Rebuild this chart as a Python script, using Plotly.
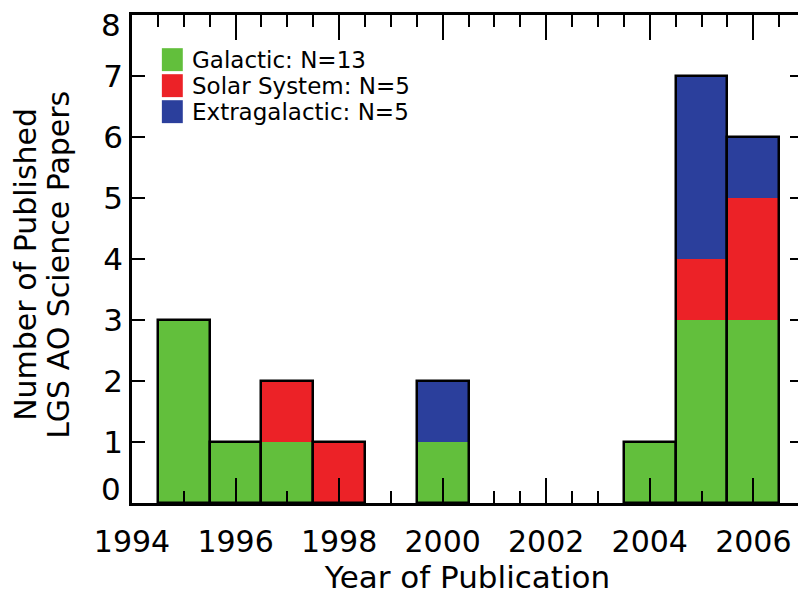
import plotly.graph_objects as go

# 数据: 每年发表的 LGS AO 科学论文数
years = [1995, 1996, 1997, 1998, 2000, 2004, 2005, 2006]
galactic = [3, 1, 1, 0, 1, 1, 3, 3]
solar_system = [0, 0, 1, 1, 0, 0, 1, 2]
extragalactic = [0, 0, 0, 0, 1, 0, 3, 1]

legend_labels = ["Galactic: N=13", "Solar System: N=5", "Extragalactic: N=5"]
colors = ["#62bf3c", "#ec2227", "#2b3f9c"]

y_ticks = [0, 1, 2, 3, 4, 5, 6, 7, 8]
y_title_lines = ["Number of Published", "LGS AO Science Papers"]

FONT = "DejaVu Sans"

base_solar = [g for g in galactic]
base_extra = [g + s for g, s in zip(galactic, solar_system)]
totals = [g + s + e for g, s, e in zip(galactic, solar_system, extragalactic)]

fig = go.Figure()

for vals, base, col, name in [
    (galactic, [0] * len(years), colors[0], legend_labels[0]),
    (solar_system, base_solar, colors[1], legend_labels[1]),
    (extragalactic, base_extra, colors[2], legend_labels[2]),
]:
    fig.add_trace(go.Bar(
        x=years, y=vals, base=base, width=1,
        marker=dict(color=col, line=dict(width=0)),
        name=name, showlegend=False
    ))

# 外框 (堆叠柱的整体黑边)
fig.add_trace(go.Bar(
    x=years, y=totals, width=1,
    marker=dict(color="rgba(0,0,0,0)", line=dict(color="black", width=2.5)),
    showlegend=False
))

# 自定义图例 (色块 + 文字)
for i, (lab, col) in enumerate(zip(legend_labels, colors)):
    y1 = 0.932 - i * 0.0533
    fig.add_shape(type="rect", xref="paper", yref="paper",
                  x0=0.0445, x1=0.0757, y0=y1 - 0.047, y1=y1,
                  fillcolor=col, line=dict(width=0))
    fig.add_annotation(text=lab, xref="paper", yref="paper",
                       x=0.086, y=y1 - 0.0235, xanchor="left", yanchor="middle",
                       showarrow=False, font=dict(family=FONT, size=23, color="black"))

# 两端的 y 刻度文字向内收
fig.add_annotation(text=str(y_ticks[0]), xref="paper", yref="y", x=0, y=y_ticks[0],
                   xanchor="right", yanchor="bottom", xshift=-9, yshift=-6, showarrow=False,
                   font=dict(family=FONT, size=31, color="black"))
fig.add_annotation(text=str(y_ticks[-1]), xref="paper", yref="y", x=0, y=y_ticks[-1],
                   xanchor="right", yanchor="top", xshift=-9, yshift=10, showarrow=False,
                   font=dict(family=FONT, size=31, color="black"))

# y 轴标题 (两行, 行距较紧)
for txt, xs in zip(y_title_lines, [-106, -73]):
    fig.add_annotation(text=txt, xref="paper", yref="paper", x=0, y=0.488,
                       xanchor="center", yanchor="middle", xshift=xs, textangle=-90,
                       showarrow=False, font=dict(family=FONT, size=30, color="black"))

fig.update_layout(
    barmode="overlay",
    bargap=0,
    width=798, height=588,
    margin=dict(l=124, r=0, t=7, b=93),
    plot_bgcolor="white", paper_bgcolor="white",
    font=dict(family=FONT, size=30, color="black"),
)

fig.update_xaxes(
    range=[1994, 2006.96],
    dtick=2, tick0=1994,
    ticks="inside", ticklen=25, tickwidth=2, tickcolor="black",
    minor=dict(dtick=0.5, tick0=1994, ticks="inside", ticklen=12, tickwidth=2, tickcolor="black"),
    showline=True, linewidth=2.5, linecolor="black", mirror="ticks",
    showgrid=False, zeroline=False,
    tickfont=dict(size=30), ticklabelstandoff=10,
    title=dict(text="Year of Publication", font=dict(size=31), standoff=8),
)

fig.update_yaxes(
    range=[y_ticks[0], y_ticks[-1]],
    tickvals=y_ticks[1:-1],
    ticks="inside", ticklen=13, tickwidth=2, tickcolor="black",
    showline=True, linewidth=2.5, linecolor="black", mirror="ticks",
    showgrid=False, zeroline=False,
    tickfont=dict(size=31), ticklabelstandoff=0,
)

fig.write_html("out.html")
